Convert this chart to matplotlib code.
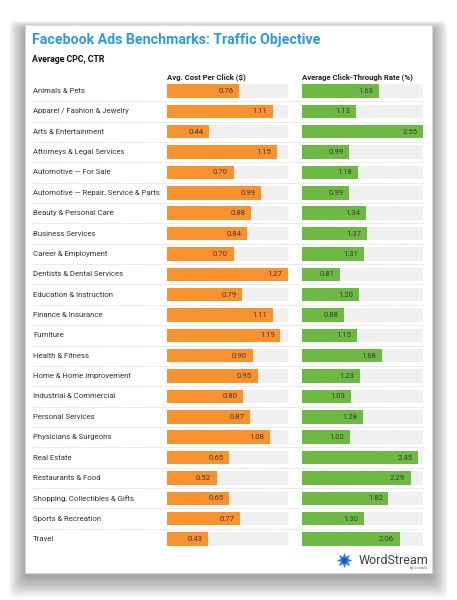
import numpy as np
import matplotlib
matplotlib.use("Agg")
import matplotlib.pyplot as plt
import matplotlib.transforms as mtransforms
from matplotlib.patches import Rectangle, FancyBboxPatch

plt.rcParams['font.family'] = ['Roboto', 'DejaVu Sans']

categories = [
    "Animals & Pets", "Apparel / Fashion & Jewelry", "Arts & Entertainment",
    "Attorneys & Legal Services", "Automotive \u2014 For Sale",
    "Automotive \u2014 Repair, Service & Parts", "Beauty & Personal Care",
    "Business Services", "Career & Employment", "Dentists & Dental Services",
    "Education & Instruction", "Finance & Insurance", "Furniture",
    "Health & Fitness", "Home & Home Improvement", "Industrial & Commercial",
    "Personal Services", "Physicians & Surgeons", "Real Estate",
    "Restaurants & Food", "Shopping, Collectibles & Gifts",
    "Sports & Recreation", "Travel",
]
cpc = [0.76, 1.11, 0.44, 1.15, 0.70, 0.99, 0.88, 0.84, 0.70, 1.27, 0.79, 1.11,
       1.19, 0.90, 0.95, 0.80, 0.87, 1.08, 0.65, 0.52, 0.65, 0.77, 0.43]
ctr = [1.63, 1.13, 2.55, 0.99, 1.18, 0.99, 1.34, 1.37, 1.31, 0.81, 1.20, 0.88,
       1.15, 1.68, 1.23, 1.03, 1.28, 1.02, 2.45, 2.29, 1.82, 1.30, 2.06]

title = "Facebook Ads Benchmarks: Traffic Objective"
subtitle = "Average CPC, CTR"
col_titles = ["Avg. Cost Per Click ($)", "Average Click-Through Rate (%)"]

W, H = 457, 600
fig = plt.figure(figsize=(W / 100, H / 100), dpi=100)
fig.patch.set_facecolor("white")


def fx(px):
    return px / W


def fy(py):
    return 1 - py / H


# card with soft shadow
card = (25, 25, 432, 573)
for i in range(16, 0, -1):
    sh = FancyBboxPatch((fx(card[0] - i * 1.0), fy(card[3] + 4 + i * 1.3)),
                        fx(card[2] - card[0] + i * 2.0), (card[3] - card[1] + i * 1.8) / H,
                        boxstyle="round,pad=0,rounding_size=0.012",
                        transform=fig.transFigure, facecolor="#000000",
                        edgecolor="none", alpha=0.024, zorder=0)
    fig.patches.append(sh)
fig.patches.append(Rectangle((fx(card[0]), fy(card[3])), fx(card[2] - card[0]),
                             (card[3] - card[1]) / H, transform=fig.transFigure,
                             facecolor="white", edgecolor="#d8d8d8", lw=0.5, zorder=1))

fig.text(fx(32), fy(40), title, color="#2b9be0", fontsize=10.2, fontweight="bold",
         va="center", ha="left")
fig.text(fx(32), fy(60), subtitle, color="#111111", fontsize=6.3, fontweight="bold",
         va="center", ha="left")

n = len(categories)
row0, rowN = 91, 539
step = (rowN - row0) / (n - 1)
ax_top = row0 - step / 2
ax_bot = rowN + step / 2

cols = [
    (167, 121, cpc, "#f7922e"),
    (302, 121, ctr, "#6db944"),
]
y = np.arange(n)
axes = []
for (x0, w, vals, color), head in zip(cols, col_titles):
    ax = fig.add_axes([fx(x0), fy(ax_bot), w / W, (ax_bot - ax_top) / H])
    ax.set_zorder(3)
    ax.patch.set_visible(False)
    vmax = max(vals)
    ax.barh(y, [vmax] * n, height=0.66, color="#f0f0f0", zorder=1)
    ax.barh(y, vals, height=0.66, color=color, zorder=2)
    for yi, v in zip(y, vals):
        ax.annotate(f"{v:.2f}", (v, yi), xytext=(-4, 0), textcoords="offset points",
                    ha="right", va="center", fontsize=5.6, color="#3a3a3a", zorder=3)
    ax.set_xlim(0, vmax)
    ax.set_ylim(n - 0.5, -0.5)
    ax.axis("off")
    fig.text(fx(x0), fy(77), head, fontsize=5.6, fontweight="bold", color="#222222",
             va="center", ha="left")
    axes.append(ax)

ax = axes[0]
tr = mtransforms.blended_transform_factory(fig.transFigure, ax.transData)
for yi, cat in zip(y, categories):
    ax.text(fx(33), yi, cat, transform=tr, fontsize=5.6, color="#333333",
            va="center", ha="left", clip_on=False)
for yi in y[:-1]:
    ax.plot([fx(32), fx(424)], [yi + 0.5, yi + 0.5], transform=tr, color="#dddddd",
            lw=0.6, ls=(0, (2, 1)), clip_on=False, zorder=0)

# logo
fig.text(fx(359), fy(560), "WordStream", fontsize=9.0, color="#3b3f4f",
         va="center", ha="left", zorder=5)
fig.text(fx(427), fy(568.5), "by LocaliQ", fontsize=2.6, color="#555555",
         va="center", ha="right", zorder=5)
lax = fig.add_axes([fx(336), fy(568), fx(16), 16 / H])
lax.set_zorder(5)
lax.axis("off")
lax.scatter([0], [0], marker=(8, 1, 0), s=130, color="#2f7fe3", lw=0)
lax.scatter([0], [0], marker="o", s=14, color="#1a56b8", lw=0)
lax.set_xlim(-1, 1)
lax.set_ylim(-1, 1)

fig.savefig("out.png", dpi=100)
